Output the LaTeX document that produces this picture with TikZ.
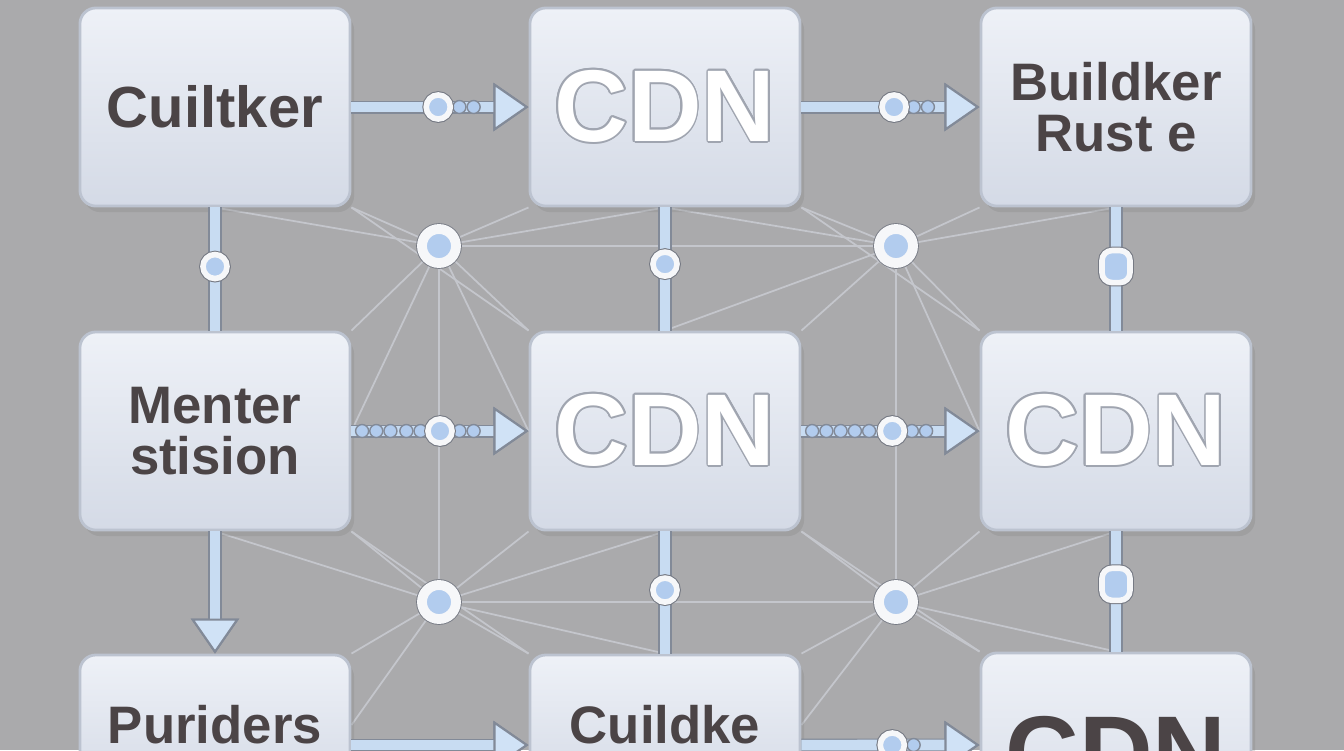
\documentclass[tikz,border=0pt]{standalone}
\usepackage{fontspec}
\setmainfont{Liberation Sans}
\usepackage{contour}
\contourlength{0.5pt}
\usetikzlibrary{arrows.meta,shadows,backgrounds}
\definecolor{bggray}{RGB}{170,170,172}
\definecolor{boxtop}{RGB}{238,241,247}
\definecolor{boxbot}{RGB}{212,218,230}
\definecolor{boxedge}{RGB}{188,195,208}
\definecolor{barblue}{RGB}{200,220,242}
\definecolor{tipblue}{RGB}{208,226,246}
\definecolor{barline}{RGB}{130,138,152}
\definecolor{dotblue}{RGB}{178,204,238}
\definecolor{ringwhite}{RGB}{246,247,249}
\definecolor{ringedge}{RGB}{118,122,132}
\definecolor{labeldark}{RGB}{75,68,70}
\definecolor{cdnedge}{RGB}{160,165,176}
\definecolor{netgray}{RGB}{196,198,204}
\begin{document}
\begin{tikzpicture}[x=0.01cm, y=-0.01cm,
        box/.style={draw=boxedge, line width=0.8pt, rounded corners=0.16cm, top color=boxtop, bottom color=boxbot,
            minimum width=2.7cm, minimum height=1.98cm, drop shadow={opacity=0.25, shadow xshift=0.04cm, shadow yshift=-0.06cm}},
        word/.style={text=labeldark, font=\fontsize{15}{14.5}\selectfont\bfseries, align=center},
        cdn/.style={text=white, font=\fontsize{29}{29}\selectfont\bfseries},
        bar/.style={draw=barblue, line width=3pt, preaction={draw=barline, line width=3.7pt}},
        link/.style={bar, -{Triangle[length=0.35cm, width=0.48cm, color=barline, fill=tipblue, line width=0.6pt]}},
        bead/.style={circle, fill=dotblue, draw=barline, line width=0.4pt, minimum size=0.13cm, inner sep=0pt},
        ring/.style={circle, fill=dotblue, draw=ringwhite, line width=1.6pt, minimum size=0.24cm, inner sep=0pt,
            preaction={draw=ringedge, line width=2.2pt}},
        plug/.style={rectangle, rounded corners=0.1cm, fill=dotblue, draw=ringwhite, line width=1.6pt,
            minimum width=0.28cm, minimum height=0.32cm, inner sep=0pt, preaction={draw=ringedge, line width=2.2pt}},
        hub/.style={circle, fill=dotblue, draw=ringwhite, line width=2.8pt, minimum size=0.34cm, inner sep=0pt,
            preaction={draw=ringedge, line width=3.3pt}},
        net/.style={draw=netgray, line width=0.5pt}
    ]
        \useasboundingbox (0,0) rectangle (1344,750);

        % boxes
        \node[box, word, font=\fontsize{16.5}{16}\selectfont\bfseries] (B11) at (215, 107) {Cuiltker};
        \node[box, cdn] (B12) at (665, 107) {\contour{cdnedge}{CDN}};
        \node[box, word] (B13) at (1116, 107) {Buildker\\Rust e};
        \node[box, word] (B21) at (215, 431) {Menter\\stision};
        \node[box, cdn] (B22) at (665, 431) {\contour{cdnedge}{CDN}};
        \node[box, cdn] (B23) at (1116, 431) {\contour{cdnedge}{CDN}};
        \node[box, word, minimum height=1.4cm] (B31) at (215, 725) {Puriders};
        \node[box, word, minimum height=1.4cm] (B32) at (665, 725) {Cuildke};
        \node[box, cdn, text=labeldark] (B33) at (1116, 752) {CDN};

        % free hubs
        \node[hub] (H1) at (439, 246) {};
        \node[hub] (H2) at (896, 246) {};
        \node[hub] (H3) at (439, 602) {};
        \node[hub] (H4) at (896, 602) {};

        % background and faint net
        \begin{scope}[on background layer]
            \fill[bggray] (0,0) rectangle (1344,750);
            \foreach \a/\b in {H1/B11.south east, H1/B11.south, H1/B12.south west, H1/B12.south, H1/B21.north east,
                    H1/B21.east, H1/B22.north west, H1/B22.west, H1/H2, H1/H3,
                    H2/B12.south east, H2/B12.south, H2/B13.south west, H2/B13.south, H2/B22.north east,
                    H2/B22.north, H2/B23.north west, H2/B23.west, H2/H4,
                    H3/B21.south east, H3/B21.south, H3/B22.south west, H3/B22.south, H3/B31.north east,
                    H3/B32.north west, H3/B32.north, H3/B31.east, H3/H4,
                    H4/B22.south east, H4/B23.south west, H4/B23.south, H4/B32.north east, H4/B33.north west,
                    H4/B33.north, H4/B32.east, B11.south east/B22.north west, B12.south east/B23.north west,
                    B21.south east/B32.north west, B22.south east/B33.north west}
                \draw[net] (\a) -- (\b);
        \end{scope}

        % rows
        \path (B11) edge[link] node[bead, pos=.61] {} node[bead, pos=.69] {} node[ring, pos=.49] {} (B12);
        \path (B12) edge[link] node[bead, pos=.63] {} node[bead, pos=.71] {} node[ring, pos=.52] {} (B13);
        \path (B21) edge[link] node[bead, pos=.06] {} node[bead, pos=.14] {} node[bead, pos=.22] {}
            node[bead, pos=.31] {} node[bead, pos=.39] {} node[bead, pos=.61] {} node[bead, pos=.69] {}
            node[ring, pos=.5] {} (B22);
        \path (B22) edge[link] node[bead, pos=.06] {} node[bead, pos=.14] {} node[bead, pos=.22] {}
            node[bead, pos=.30] {} node[bead, pos=.38] {} node[bead, pos=.62] {} node[bead, pos=.70] {}
            node[ring, pos=.51] {} (B23);
        \path ([yshift=-0.2cm]B31.east) edge[link] ([yshift=-0.2cm]B32.west);
        \path ([yshift=-0.2cm]B32.east) edge[link] node[bead, pos=.63] {} node[ring, pos=.51] {} ([yshift=0.07cm]B33.west);

        % columns
        \path (B11) edge[bar] node[ring, pos=.48] {} (B21);
        \path (B21) edge[link] (B31);
        \path (B12) edge[bar] node[ring, pos=.46] {} (B22);
        \path (B22) edge[bar] node[ring, pos=.48] {} (B32);
        \path (B13) edge[bar] node[plug, pos=.48] {} (B23);
        \path (B23) edge[bar] node[plug, pos=.44] {} (B33);
    \end{tikzpicture}
\end{document}
